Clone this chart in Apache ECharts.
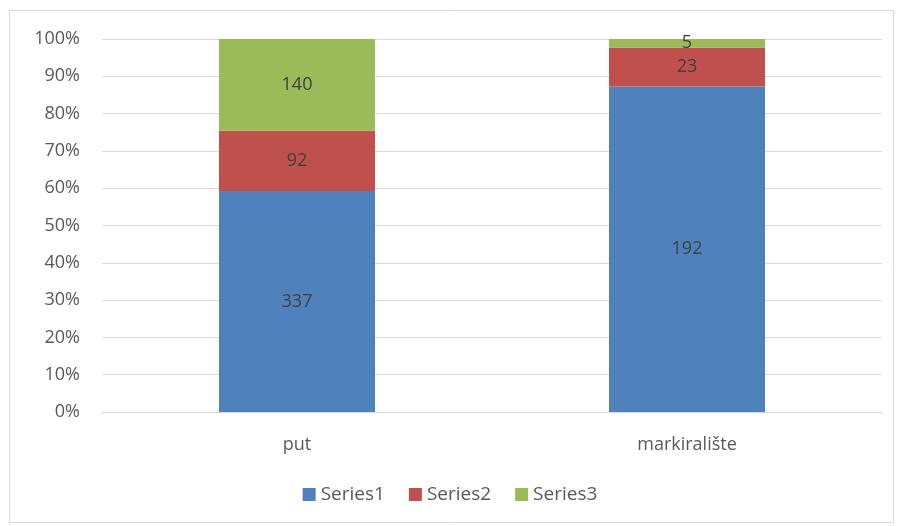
<!DOCTYPE html>
<html>
<head>
<meta charset="utf-8">
<script src="https://cdn.jsdelivr.net/npm/echarts@6/dist/echarts.min.js"></script>
<style>
  html, body { margin: 0; padding: 0; background: #fff; }
  #chart { width: 900px; height: 526px; }
</style>
</head>
<body>
<div id="chart"></div>
<script>
// Categories and raw counts per series
const categories = ['put', 'markiralište'];
const series1 = [337, 192];
const series2 = [92, 23];
const series3 = [140, 5];
const seriesNames = ['Series1', 'Series2', 'Series3'];
const colors = ['#4f81bd', '#c0504d', '#9bbb59'];

const raw = [series1, series2, series3];
const totals = categories.map((_, i) => raw.reduce((s, arr) => s + arr[i], 0));

const chart = echarts.init(document.getElementById('chart'));
const font = '"Open Sans", "Noto Sans", sans-serif';

chart.setOption({
  animation: false,
  backgroundColor: '#fff',
  graphic: [{
    type: 'rect',
    shape: { x: 9.5, y: 10.5, width: 884, height: 512 },
    style: { fill: 'none', stroke: '#d9d9d9', lineWidth: 1 },
    silent: true
  }],
  grid: { left: 102, right: 18, top: 39, bottom: 114, containLabel: false },
  legend: {
    bottom: 17,
    left: 'center',
    itemWidth: 13,
    itemHeight: 13,
    itemGap: 24,
    icon: 'rect',
    textStyle: { color: '#595959', fontSize: 19, fontFamily: font },
    data: seriesNames
  },
  xAxis: {
    type: 'category',
    data: categories,
    axisLine: { lineStyle: { color: '#d9d9d9', width: 1 } },
    axisTick: { show: false },
    axisLabel: { color: '#595959', fontSize: 18, fontFamily: font, margin: 24 }
  },
  yAxis: {
    type: 'value',
    min: 0,
    max: 100,
    interval: 10,
    axisLine: { show: false },
    axisTick: { show: false },
    splitLine: { lineStyle: { color: '#d9d9d9', width: 1 } },
    axisLabel: { color: '#595959', fontSize: 18, fontFamily: font, margin: 22, formatter: '{value}%' }
  },
  series: raw.map((arr, k) => ({
    name: seriesNames[k],
    type: 'bar',
    stack: 'total',
    barWidth: '40%',
    itemStyle: { color: colors[k] },
    data: arr.map((v, i) => ({ value: v / totals[i] * 100, raw: v })),
    label: {
      show: true,
      position: 'inside',
      color: '#404040',
      fontSize: 18,
      fontFamily: font,
      formatter: p => String(p.data.raw)
    }
  }))
});
</script>
</body>
</html>
